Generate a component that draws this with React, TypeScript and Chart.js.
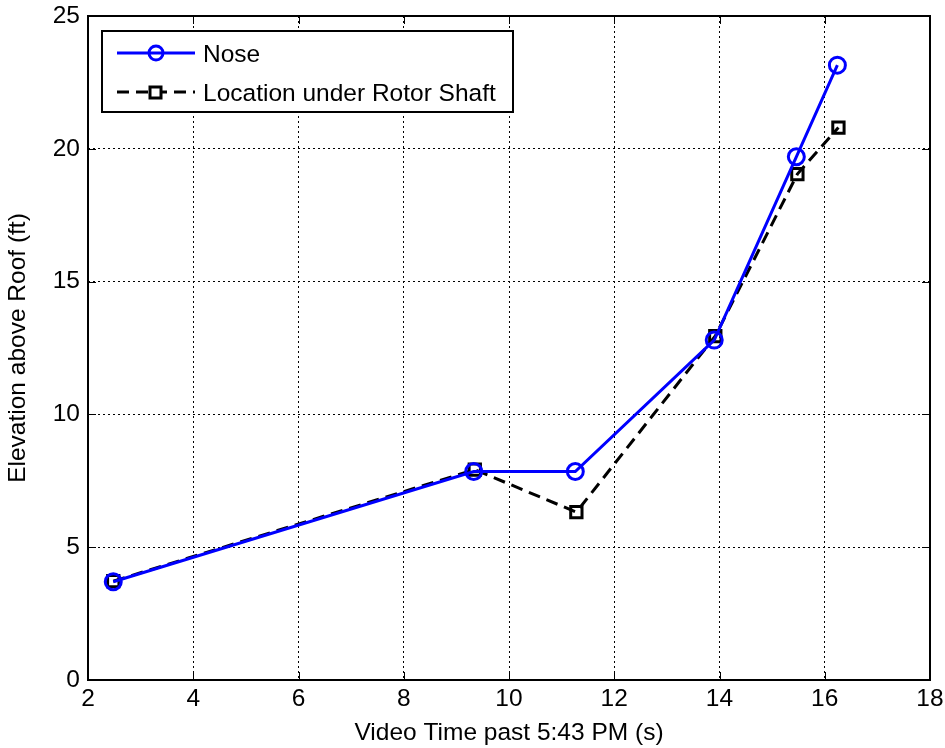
import React, { useEffect, useRef } from "react";
import { Chart, registerables } from "chart.js";

Chart.register(...registerables);

const noseX = [2.48, 9.33, 11.26, 13.9, 15.46, 16.24];
const noseY = [3.7, 7.85, 7.85, 12.8, 19.7, 23.15];
const rotorX = [2.48, 9.35, 11.28, 13.92, 15.48, 16.26];
const rotorY = [3.72, 7.92, 6.32, 12.95, 19.05, 20.8];
const seriesNames = ["Nose", "Location under Rotor Shaft"];
const xTitle = "Video Time past 5:43 PM (s)";
const yTitle = "Elevation above Roof (ft)";

const FONT = "Liberation Sans, Arial, sans-serif";
const FS = 24.5;

const frame = {
  id: "frame",
  afterDatasetsDraw(chart: any) {
    const { ctx, chartArea: a, scales } = chart;
    ctx.save();
    ctx.strokeStyle = "#000";
    ctx.lineWidth = 2;
    ctx.setLineDash([]);
    ctx.strokeRect(a.left, a.top, a.right - a.left, a.bottom - a.top);
    ctx.lineWidth = 1;
    const t = 8;
    scales.x.ticks.forEach((tk: any) => {
      const px = Math.round(scales.x.getPixelForValue(tk.value)) + 0.5;
      ctx.beginPath();
      ctx.moveTo(px, a.bottom); ctx.lineTo(px, a.bottom - t);
      ctx.moveTo(px, a.top); ctx.lineTo(px, a.top + t);
      ctx.stroke();
    });
    scales.y.ticks.forEach((tk: any) => {
      const py = Math.round(scales.y.getPixelForValue(tk.value)) + 0.5;
      ctx.beginPath();
      ctx.moveTo(a.left, py); ctx.lineTo(a.left + t, py);
      ctx.moveTo(a.right, py); ctx.lineTo(a.right - t, py);
      ctx.stroke();
    });
    // legend
    const lx = 102, ly = 31, lw = 411, lh = 81;
    ctx.fillStyle = "#fff";
    ctx.fillRect(lx, ly, lw, lh);
    ctx.lineWidth = 2;
    ctx.strokeRect(lx, ly, lw, lh);
    const rows = [53, 92];
    chart.data.datasets.forEach((ds: any, i: number) => {
      const y = rows[i];
      ctx.strokeStyle = ds.borderColor;
      ctx.lineWidth = 3;
      ctx.setLineDash(ds.borderDash || []);
      ctx.beginPath();
      ctx.moveTo(117, y); ctx.lineTo(195, y);
      ctx.stroke();
      ctx.setLineDash([]);
      if (ds.pointStyle === "circle") {
        ctx.beginPath();
        ctx.arc(156, y, 7, 0, Math.PI * 2);
        ctx.stroke();
      } else {
        ctx.fillStyle = "#fff";
        ctx.fillRect(150, y - 5, 11, 11);
        ctx.strokeRect(150, y - 5, 11, 11);
      }
      ctx.fillStyle = "#000";
      ctx.font = FS + "px " + FONT;
      ctx.textBaseline = "middle";
      ctx.textAlign = "left";
      ctx.fillText(ds.label, 203, y + 2);
    });
    ctx.restore();
  },
};

export default function App() {
  const ref = useRef<HTMLCanvasElement>(null);
  useEffect(() => {
    document.body.style.margin = "0";
    const chart = new Chart(ref.current!, {
      type: "line",
      data: {
        datasets: [
          {
            label: seriesNames[0],
            data: noseX.map((x, i) => ({ x, y: noseY[i] })),
            borderColor: "#0000ff",
            borderWidth: 3,
            pointStyle: "circle",
            pointRadius: 8,
            pointBorderWidth: 3,
            pointBackgroundColor: "rgba(0,0,0,0)",
            pointBorderColor: "#0000ff",
            tension: 0,
          },
          {
            label: seriesNames[1],
            data: rotorX.map((x, i) => ({ x, y: rotorY[i] })),
            borderColor: "#000000",
            borderWidth: 3,
            borderDash: [12, 7],
            pointStyle: "rect",
            pointRadius: 8,
            pointBorderWidth: 3,
            pointBackgroundColor: "rgba(0,0,0,0)",
            pointBorderColor: "#000000",
            tension: 0,
          },
        ],
      },
      options: {
        animation: false,
        responsive: false,
        layout: { padding: { top: 16, right: 15, left: 0, bottom: 0 } },
        plugins: { legend: { display: false }, tooltip: { enabled: false } },
        scales: {
          x: {
            type: "linear",
            min: 2,
            max: 18,
            afterFit(s: any) { s.height = 68; s.paddingLeft = 0; s.paddingRight = 0; },
            ticks: { stepSize: 2, color: "#000", font: { family: FONT, size: FS }, padding: 5 },
            grid: { color: "#000", lineWidth: 1, drawTicks: false, tickLength: 0 },
            border: { display: false, dash: [2, 3] },
            title: { display: true, text: xTitle, color: "#000", font: { family: FONT, size: FS }, padding: { top: 0, bottom: 0 } },
          },
          y: {
            type: "linear",
            min: 0,
            max: 25,
            afterFit(s: any) { s.width = 88; s.paddingTop = 0; s.paddingBottom = 0; },
            ticks: { stepSize: 5, color: "#000", font: { family: FONT, size: FS }, padding: 8 },
            grid: { color: "#000", lineWidth: 1, drawTicks: false, tickLength: 0 },
            border: { display: false, dash: [2, 3] },
            title: { display: true, text: yTitle, color: "#000", font: { family: FONT, size: FS }, padding: { top: 4, bottom: 0 } },
          },
        },
      },
      plugins: [frame],
    });
    return () => chart.destroy();
  }, []);
  return <canvas ref={ref} width={945} height={748} style={{ display: "block" }} />;
}
